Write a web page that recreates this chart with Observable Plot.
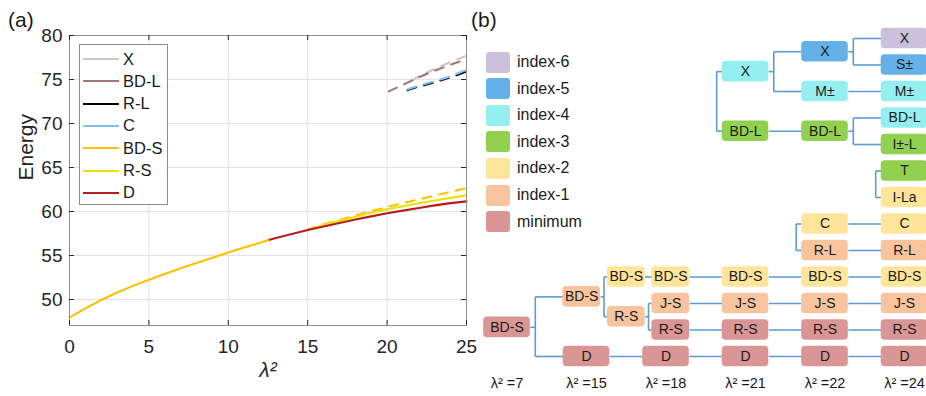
<!DOCTYPE html>
<html>
<head>
<meta charset="utf-8">
<script src="https://cdn.jsdelivr.net/npm/d3@7"></script>
<script src="https://cdn.jsdelivr.net/npm/@observablehq/plot@0.6"></script>
<style>
  body { margin: 0; background: white; }
  #root { position: relative; width: 926px; height: 396px; background: white; overflow: hidden;
          font-family: "Liberation Sans", Arial, sans-serif; color: #1a1a1a; }
  .abs { position: absolute; }
  .panel-label { font-size: 21px; color: #1a1a1a; }
  #legA { left: 79px; top: 44px; width: 87px; height: 159px; border: 1px solid #8c8c8c; background: white; }
  .legA-row { position: absolute; left: 3px; height: 22px; display: flex; align-items: center; }
  .legA-sw { width: 36px; height: 0; border-top: 2.6px solid; margin-right: 4px; }
  .legA-tx { font-size: 16.5px; color: #1a1a1a; }
  .legB-row { position: absolute; left: 486px; height: 21px; display: flex; align-items: center; }
  .legB-sw { width: 24px; height: 21px; border-radius: 3px; margin-right: 7px; }
  .legB-tx { font-size: 16px; color: #1a1a1a; }
</style>
</head>
<body>
<div id="root">
  <div id="panelA" class="abs" style="left:0;top:0"></div>
  <div id="panelB" class="abs" style="left:470px;top:0"></div>
  <div class="abs panel-label" style="left:8px;top:8px">(a)</div>
  <div class="abs panel-label" style="left:471px;top:8px">(b)</div>
  <div id="legA" class="abs"></div>
  <div id="legB"></div>
</div>
<script>
// ---------- Panel (a) data ----------
const seriesNames = ["X", "BD-L", "R-L", "C", "BD-S", "R-S", "D"];
const seriesColors = ["#c8c8c8", "#a57676", "#000000", "#80bff0", "#ffc000", "#ebe100", "#b81c1f"];

const lam_X   = [21.5, 22, 23, 24, 25];
const E_X     = [74.85, 75.35, 76.2, 77.0, 77.7];
const lam_BDL = [20.1, 21, 22, 23, 24, 25];
const E_BDL   = [73.65, 74.4, 75.25, 76.0, 76.7, 77.3];
const lam_RL  = [21.3, 22, 23, 24, 25];
const E_RL    = [73.8, 74.2, 74.7, 75.25, 75.9];
const lam_C   = [21.3, 22, 23, 24, 25];
const E_C     = [73.9, 74.3, 74.8, 75.35, 76.1];
const lam_BDS = [0, 1, 2, 3, 4, 5, 6, 7, 8, 9, 10, 11, 12, 12.6];
const E_BDS   = [47.95, 49.0, 49.95, 50.8, 51.55, 52.25, 52.9, 53.55, 54.15, 54.75, 55.35, 55.9, 56.45, 56.8];
const lam_BDS2 = [15, 16, 17, 18, 19, 20, 21, 22, 23, 24, 25];
const E_BDS2   = [57.95, 58.55, 59.05, 59.55, 60.05, 60.5, 60.95, 61.4, 61.8, 62.25, 62.65];
const lam_RS  = [15.5, 16, 17, 18, 19, 20, 21, 22, 23, 24, 25];
const E_RS    = [58.2, 58.45, 58.95, 59.4, 59.85, 60.25, 60.6, 60.95, 61.25, 61.55, 61.85];
const lam_D   = [12.6, 13, 14, 15, 16, 17, 18, 19, 20, 21, 22, 23, 24, 25];
const E_D     = [56.8, 57.0, 57.45, 57.9, 58.3, 58.7, 59.1, 59.45, 59.8, 60.1, 60.4, 60.7, 60.95, 61.15];

const xTicks = [0, 5, 10, 15, 20, 25];
const yTicks = [50, 55, 60, 65, 70, 75, 80];

// pieces in drawing order
const pieces = [
  {name: "X",    lam: lam_X,    E: E_X,    dashed: true},
  {name: "BD-L", lam: lam_BDL,  E: E_BDL,  dashed: true},
  {name: "R-L",  lam: lam_RL,   E: E_RL,   dashed: true},
  {name: "C",    lam: lam_C,    E: E_C,    dashed: true},
  {name: "BD-S", lam: lam_BDS,  E: E_BDS,  dashed: false},
  {name: "BD-S", lam: lam_BDS2, E: E_BDS2, dashed: true},
  {name: "R-S",  lam: lam_RS,   E: E_RS,   dashed: false},
  {name: "D",    lam: lam_D,    E: E_D,    dashed: false}
];

const W_A = 480, H = 396, mL = 69, mR = 14, mT = 35, mB = 71;
const frameW = W_A - mL - mR, frameH = H - mT - mB;
const tickLen = 5;
const axisColor = "#262626";

const lineMarks = pieces.map(p => Plot.line(
  p.lam.map((l, i) => ({lam: l, E: p.E[i], name: p.name})),
  {x: "lam", y: "E", stroke: "name", strokeWidth: 2.1,
   strokeDasharray: p.dashed ? "9,8" : null}
));

const chartA = Plot.plot({
  width: W_A, height: H,
  marginLeft: mL, marginRight: mR, marginTop: mT, marginBottom: mB,
  style: {background: "transparent", overflow: "visible", fontFamily: "Liberation Sans, Arial, sans-serif"},
  x: {domain: [0, 25]},
  y: {domain: [47.05, 80]},
  color: {domain: seriesNames, range: seriesColors},
  marks: [
    Plot.gridX(xTicks, {stroke: "#e3e3e3", strokeOpacity: 1}),
    Plot.gridY(yTicks, {stroke: "#e3e3e3", strokeOpacity: 1}),
    ...lineMarks,
    Plot.frame({stroke: "#8f8f8f"}),
    Plot.tickX(xTicks, {x: d => d, insetTop: frameH - tickLen, stroke: axisColor}),
    Plot.tickX(xTicks, {x: d => d, insetBottom: frameH - tickLen, stroke: axisColor}),
    Plot.tickY(yTicks, {y: d => d, insetRight: frameW - tickLen, stroke: axisColor}),
    Plot.tickY(yTicks, {y: d => d, insetLeft: frameW - tickLen, stroke: axisColor}),
    Plot.axisX(xTicks, {tickSize: 0, tickPadding: 14, fontSize: 19, fill: axisColor, label: null}),
    Plot.axisY(yTicks, {tickSize: 0, tickPadding: 7, fontSize: 19, fill: axisColor, label: null}),
    Plot.text(["Energy"], {frameAnchor: "left", dx: -43, rotate: -90, fontSize: 21, fill: axisColor}),
    Plot.text(["λ²"], {frameAnchor: "bottom", dy: 51, fontSize: 21, fontStyle: "italic", fill: axisColor})
  ]
});
document.getElementById("panelA").appendChild(chartA);

// legend (a)
const legA = document.getElementById("legA");
seriesNames.forEach((n, i) => {
  const row = document.createElement("div");
  row.className = "legA-row";
  row.style.top = (3 + i * 22.3) + "px";
  row.innerHTML = `<div class="legA-sw" style="border-color:${seriesColors[i]}"></div><span class="legA-tx">${n}</span>`;
  legA.appendChild(row);
});

// ---------- Panel (b) data ----------
const cats = ["index-6", "index-5", "index-4", "index-3", "index-2", "index-1", "minimum"];
const catColors = ["#cbc1dc", "#63b1e8", "#95eff0", "#92d050", "#ffe59a", "#f8c49d", "#d99694"];
const stageLabels = ["λ² =7", "λ² =15", "λ² =18", "λ² =21", "λ² =22", "λ² =24"];
const stageCols = [0, 1, 2, 3, 4, 5];

// nodes: id, label, category, column position, row position, small box
const nodeIds   = ["a0","a1","a2","a3","a4","a5","a6","a7","a8",
                   "b0","b1","b2","b3","b4","b5",
                   "c0","c1","c2","c3","c4","c5","c6","c7","c8",
                   "d0","d1","d2","d3","d4","d5","d6","d7","d8","d9","d10","d11","d12"];
const nodeLabels = ["BD-S","BD-S","D","BD-S","R-S","BD-S","J-S","R-S","D",
                    "X","BD-L","BD-S","J-S","R-S","D",
                    "X","M±","BD-L","C","R-L","BD-S","J-S","R-S","D",
                    "X","S±","M±","BD-L","I±-L","T","I-La","C","R-L","BD-S","J-S","R-S","D"];
const nodeCats = ["minimum","index-1","minimum","index-2","index-1","index-2","index-1","minimum","minimum",
                  "index-4","index-3","index-2","index-1","minimum","minimum",
                  "index-5","index-4","index-3","index-2","index-1","index-2","index-1","minimum","minimum",
                  "index-6","index-5","index-4","index-4","index-3","index-3","index-2","index-2","index-1","index-2","index-1","minimum","minimum"];
const nodeCol = [0, 0.94, 1, 1.5, 1.5, 2.06, 2.06, 2.06, 2,
                 3, 3, 3, 3, 3, 3,
                 4, 4, 4, 4, 4, 4, 4, 4, 4,
                 5, 5, 5, 5, 5, 5, 5, 5, 5, 5, 5, 5, 5];
const nodeRow = [10.9, 9.75, 12, 9, 10.5, 9, 10, 11, 12,
                 1.25, 3.5, 9, 10, 11, 12,
                 0.5, 2, 3.5, 7, 8, 9, 10, 11, 12,
                 0, 1, 2, 3, 4, 5, 6, 7, 8, 9, 10, 11, 12];
const smallIds = ["a1","a3","a4","a5","a6","a7"];

// links parent -> child
const linkFrom = ["a0","a0","a1","a1","a3","a4","a4","a2","a5","a6","a7","a8",
                  "b2","b3","b4","b5","b0","b0","b1",
                  "c0","c0","c1","c2","c2","c3","c4","c5","c6","c7","c8"];
const linkTo   = ["a1","a2","a3","a4","a5","a6","a7","a8","b2","b3","b4","b5",
                  "c5","c6","c7","c8","c0","c1","c2",
                  "d0","d1","d2","d3","d4","d7","d8","d9","d10","d11","d12"];
// brackets without a parent
const bracketPairs = [["b0","b1"], ["c3","c4"], ["d5","d6"]];

// ---- build panel b ----
const W_B = 456;
const xRange = [36.5, 434], xDom = [0, 5];
const yRange = [38, 356], yDom = [0, 12];
const pxPerCol = (xRange[1] - xRange[0]) / (xDom[1] - xDom[0]);
const pxPerRow = (yRange[1] - yRange[0]) / (yDom[1] - yDom[0]);
const halfBig = 23.3 / pxPerCol, halfSmall = 18.9 / pxPerCol, halfH = 10.3 / pxPerRow;

const nodes = nodeIds.map((id, i) => {
  const hw = smallIds.includes(id) ? halfSmall : halfBig;
  return {id, label: nodeLabels[i], cat: nodeCats[i], col: nodeCol[i], row: nodeRow[i],
          x1: nodeCol[i] - hw, x2: nodeCol[i] + hw, y1: nodeRow[i] - halfH, y2: nodeRow[i] + halfH};
});
const byId = Object.fromEntries(nodes.map(n => [n.id, n]));

const segs = [];
const kids = {};
linkFrom.forEach((p, i) => { (kids[p] = kids[p] || []).push(byId[linkTo[i]]); });
for (const pid in kids) {
  const p = byId[pid];
  const ch = kids[pid];
  if (ch.length === 1 && Math.abs(ch[0].row - p.row) < 1e-6) {
    segs.push({x1: p.x2, y1: p.row, x2: ch[0].x1, y2: ch[0].row});
  } else {
    const gap = Math.min(...ch.map(c => c.x1)) - p.x2;
    const vx = p.x2 + Math.min(5 / pxPerCol, gap / 2);
    segs.push({x1: p.x2, y1: p.row, x2: vx, y2: p.row});
    const rows = ch.map(c => c.row).concat([p.row]);
    segs.push({x1: vx, y1: Math.min(...rows), x2: vx, y2: Math.max(...rows)});
    ch.forEach(c => segs.push({x1: vx, y1: c.row, x2: c.x1, y2: c.row}));
  }
}
bracketPairs.forEach(([a, b]) => {
  const A = byId[a], B = byId[b];
  const vx = Math.min(A.x1, B.x1) - 5.5 / pxPerCol;
  segs.push({x1: vx, y1: A.row, x2: vx, y2: B.row});
  segs.push({x1: vx, y1: A.row, x2: A.x1, y2: A.row});
  segs.push({x1: vx, y1: B.row, x2: B.x1, y2: B.row});
});

const stages = stageLabels.map((t, i) => ({t, col: stageCols[i], row: 13}));

const chartB = Plot.plot({
  width: W_B, height: H,
  margin: 0,
  style: {background: "transparent", overflow: "visible", fontFamily: "Liberation Sans, Arial, sans-serif"},
  x: {domain: xDom, range: xRange, axis: null},
  y: {domain: yDom, range: yRange, axis: null},
  color: {domain: cats, range: catColors},
  marks: [
    Plot.link(segs, {x1: "x1", y1: "y1", x2: "x2", y2: "y2", stroke: "#5d9ad6", strokeWidth: 1.6}),
    Plot.rect(nodes, {x1: "x1", x2: "x2", y1: "y1", y2: "y2", fill: "cat", rx: 4}),
    Plot.text(nodes, {x: "col", y: "row", text: "label", fontSize: 14, fill: "#1a1a1a"}),
    Plot.text(stages, {x: "col", y: "row", text: "t", fontSize: 14.5, fill: "#1a1a1a"})
  ]
});
document.getElementById("panelB").appendChild(chartB);

// legend (b)
const legB = document.getElementById("legB");
cats.forEach((c, i) => {
  const row = document.createElement("div");
  row.className = "legB-row";
  row.style.top = (51.5 + i * 26.6) + "px";
  row.innerHTML = `<div class="legB-sw" style="background:${catColors[i]}"></div><span class="legB-tx">${c}</span>`;
  legB.appendChild(row);
});
</script>
</body>
</html>
